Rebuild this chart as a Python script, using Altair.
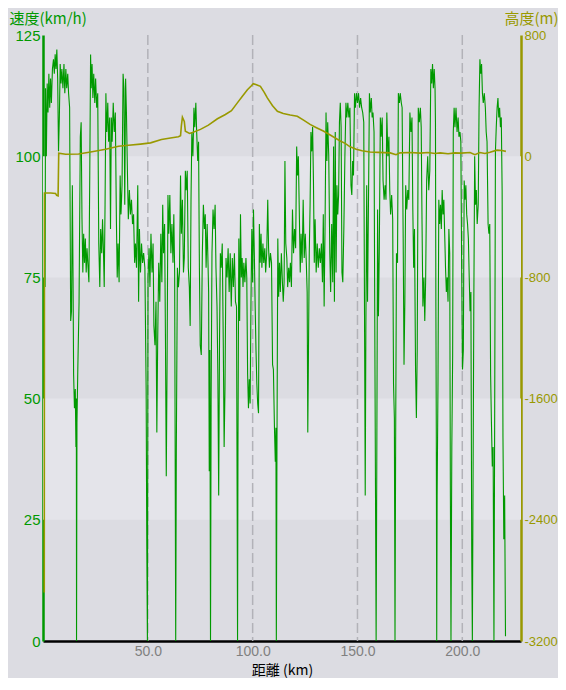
import altair as alt
import pandas as pd

# ---- data ----
# speed trace: (distance km, speed km/h)
speed_seg1 = [
    (1.0, 73), (1.2, 114), (1.6, 100), (2.0, 115), (2.4, 109), (2.8, 117), (3.2, 110), (3.6, 116),
    (4.0, 111), (4.5, 118), (5.0, 120), (5.4, 117), (5.8, 121), (6.2, 118), (6.6, 122), (7.0, 116),
    (7.4, 101), (7.8, 108), (8.2, 119), (8.6, 115), (9.0, 118), (9.5, 114), (10.0, 119), (10.4, 113),
    (10.9, 118), (11.3, 114), (11.8, 117), (12.2, 113), (12.7, 110), (13.2, 66), (13.6, 68), (14.0, 94),
    (14.3, 77), (14.6, 55), (15.0, 48), (15.4, 52), (15.7, 40), (15.9, 50), (16.0, 0), (16.2, 45),
    (16.6, 56), (17.2, 70), (17.8, 104), (18.2, 107), (18.6, 87), (19.0, 76), (19.4, 84), (19.8, 78),
    (20.2, 83), (20.6, 76), (21.0, 81), (21.5, 77), (21.9, 74), (22.3, 96), (22.7, 121), (23.0, 114),
    (23.4, 119), (23.8, 112), (24.2, 117), (24.7, 111), (25.1, 116), (25.6, 110), (26.1, 113), (26.6, 82),
    (27.1, 73), (27.5, 85), (28.0, 80), (28.4, 87), (28.8, 81), (29.2, 73), (29.6, 90), (30.0, 113),
    (30.4, 105), (30.9, 111), (31.3, 103), (31.8, 108), (32.2, 85), (32.6, 108), (33.0, 103), (33.5, 111),
    (34.0, 105), (34.5, 109), (35.0, 87), (35.4, 75), (35.8, 82), (36.3, 74), (36.8, 96), (37.2, 88),
    (37.7, 94), (38.2, 117), (38.6, 114), (39.0, 90), (39.4, 116), (39.8, 109), (40.3, 96), (40.7, 87),
    (41.2, 93), (41.7, 88), (42.2, 91), (42.7, 86), (43.2, 88), (43.7, 78), (44.1, 82), (44.6, 77),
]
speed_seg2 = [
    (45.2, 94), (45.6, 70), (46.0, 85), (46.5, 76), (47.0, 82), (47.5, 78), (48.0, 80), (48.6, 77),
    (49.2, 52), (49.5, 20), (49.8, 0), (50.1, 75), (50.6, 81), (51.0, 73), (51.5, 84), (52.0, 76),
    (52.5, 82), (52.9, 65), (53.4, 61), (53.9, 70), (54.3, 43), (54.7, 62), (55.2, 78), (55.7, 70),
    (56.2, 84), (56.7, 74), (57.1, 90), (57.5, 80), (58.0, 86), (58.4, 63), (58.8, 34), (59.2, 58),
    (59.6, 92), (60.0, 84), (60.5, 92), (61.0, 80), (61.5, 86), (62.0, 78), (62.4, 88), (62.8, 76),
    (63.1, 30), (63.3, 0), (63.6, 40), (64.1, 77), (64.6, 73), (65.1, 76), (65.6, 96), (66.0, 84),
    (66.5, 91), (67.0, 76), (67.4, 79), (67.9, 97), (68.3, 93), (68.8, 97), (69.3, 77), (69.8, 73),
    (70.2, 65), (70.6, 91), (71.0, 105), (71.5, 100), (72.0, 110), (72.4, 106), (72.9, 111), (73.3, 105),
    (73.8, 99), (74.2, 103), (74.6, 77), (75.0, 61), (75.5, 59), (76.0, 80), (76.5, 90), (77.0, 85),
    (77.4, 88), (77.8, 77), (78.3, 86), (78.7, 78), (79.0, 72), (79.3, 35), (79.6, 60), (79.9, 0),
    (80.2, 50), (80.6, 80), (81.1, 89), (81.6, 85), (82.1, 90), (82.5, 77), (83.0, 69), (83.4, 55),
    (83.8, 30), (84.2, 62), (84.6, 80), (85.0, 77), (85.5, 82), (86.0, 61), (86.4, 40), (86.8, 52),
    (87.3, 79), (87.8, 75), (88.3, 81), (88.8, 72), (89.3, 80), (89.8, 69), (90.3, 79), (90.8, 73),
    (91.3, 80), (91.8, 70), (92.3, 69), (92.6, 29), (92.8, 0), (93.0, 40),
]
speed_seg3 = [
    (93.4, 83), (93.8, 66), (94.2, 88), (94.6, 75), (95.0, 79), (95.4, 73), (95.8, 78), (96.3, 74),
    (96.8, 79), (97.2, 75), (97.6, 55), (98.0, 48), (98.4, 54), (98.8, 49), (99.2, 70), (99.6, 85),
    (100.0, 74), (100.4, 89), (100.8, 80), (101.2, 69), (101.6, 60), (102.0, 53), (102.4, 49), (102.8, 47),
    (103.2, 86), (103.6, 78), (104.0, 84), (104.4, 77), (104.9, 82), (105.3, 78), (105.8, 81), (106.2, 76),
    (106.7, 80), (107.2, 91), (107.6, 81), (108.0, 77), (108.5, 80), (109.0, 78), (109.5, 57), (109.9, 56),
    (110.4, 44), (110.8, 37), (111.1, 44), (111.3, 0), (111.6, 40), (112.0, 83), (112.4, 71), (112.8, 78),
    (113.2, 72), (113.7, 80), (114.2, 74), (114.6, 70), (115.0, 74), (115.4, 99), (115.8, 82), (116.3, 79),
    (116.7, 73), (117.2, 77), (117.6, 74), (118.0, 78), (118.5, 73), (119.0, 89), (119.5, 80), (120.0, 85),
    (120.5, 81), (121.0, 102), (121.4, 96), (121.8, 100), (122.2, 90), (122.7, 76), (123.1, 84), (123.6, 78),
    (124.1, 91), (124.6, 79), (125.1, 84), (125.6, 78), (126.0, 72), (126.3, 43), (126.6, 58), (127.0, 80),
    (127.4, 90), (127.8, 105), (128.2, 101), (128.6, 106), (129.0, 95), (129.4, 78), (129.8, 87), (130.3, 76),
    (130.8, 82), (131.3, 77), (131.8, 81), (132.3, 78), (132.8, 82), (133.3, 74), (133.7, 88), (134.1, 69),
    (134.5, 84), (135.0, 109), (135.4, 99), (135.8, 107), (136.3, 100), (136.8, 80), (137.2, 72), (137.7, 86),
    (138.2, 74), (138.6, 102), (139.0, 70),
]
speed_seg4 = [
    (139.4, 105), (139.8, 76), (140.2, 94), (140.6, 88), (141.0, 92), (141.4, 107), (141.8, 111), (142.2, 106),
    (142.6, 76), (143.0, 74), (143.5, 85), (144.0, 100), (144.5, 111), (144.9, 108), (145.4, 111), (145.9, 108),
    (146.4, 110), (146.9, 94), (147.3, 92), (147.7, 99), (148.1, 96), (148.6, 113), (149.0, 110), (149.5, 113),
    (150.0, 111), (150.5, 113), (151.0, 110), (151.5, 112), (152.0, 110), (152.5, 109), (153.0, 107), (153.4, 63),
    (153.7, 30), (154.0, 64), (154.4, 94), (154.8, 70), (155.3, 93), (155.7, 113), (156.1, 109), (156.6, 112),
    (157.0, 108), (157.4, 109), (157.9, 105), (158.3, 61), (158.6, 30), (158.9, 0), (159.2, 35), (159.6, 89),
    (160.0, 67), (160.4, 80), (160.9, 108), (161.3, 104), (161.8, 108), (162.2, 95), (162.7, 91), (163.2, 94),
    (163.6, 91), (164.0, 109), (164.5, 100), (165.0, 104), (165.4, 93), (165.8, 88), (166.3, 92), (166.8, 87),
    (167.2, 53), (167.6, 46), (167.9, 0), (168.2, 40), (168.6, 80), (169.1, 78), (169.5, 113), (170.0, 111),
    (170.4, 113), (170.9, 111), (171.3, 110), (171.8, 83), (172.2, 57), (172.6, 70), (173.0, 94), (173.5, 89),
    (174.0, 93), (174.5, 91), (175.0, 109), (175.5, 105), (176.0, 108), (176.4, 89), (176.8, 77), (177.2, 85),
    (177.7, 56), (178.1, 46), (178.5, 60), (179.0, 110), (179.5, 107), (180.0, 110), (180.4, 106), (180.8, 86),
    (181.2, 69), (181.7, 75), (182.1, 66), (182.5, 74), (183.0, 95), (183.5, 100), (184.0, 93), (184.5, 97),
    (185.0, 118), (185.4, 115), (185.8, 119), (186.2, 114), (186.6, 118),
]
speed_seg5 = [
    (187.0, 114), (187.2, 107), (187.4, 69), (187.6, 43), (187.8, 0), (188.0, 30), (188.4, 53), (188.8, 91),
    (189.2, 86), (189.6, 90), (190.0, 85), (190.4, 93), (190.8, 88), (191.2, 91), (191.6, 84), (192.0, 77),
    (192.4, 72), (192.8, 75), (193.2, 70), (193.6, 85), (194.0, 80), (194.3, 32), (194.6, 0), (195.0, 40),
    (195.4, 59), (195.7, 105), (196.1, 110), (196.5, 106), (197.0, 110), (197.5, 105), (198.0, 108), (198.4, 104),
    (198.9, 105), (199.3, 103), (199.7, 77), (200.1, 56), (200.5, 60), (200.9, 95), (201.3, 91), (201.7, 94),
    (202.1, 88), (202.5, 86), (202.9, 83), (203.3, 75), (203.7, 68), (204.1, 72), (204.5, 18), (204.8, 0),
    (205.1, 30), (205.5, 70), (205.9, 100), (206.3, 90), (206.7, 93), (207.1, 86), (207.6, 90), (208.0, 110),
    (208.4, 120), (208.8, 117), (209.2, 119), (209.6, 113), (210.0, 111), (210.5, 113), (211.0, 110), (211.4, 105),
    (211.8, 103), (212.3, 86), (212.7, 84), (213.1, 86), (213.5, 55), (213.9, 45), (214.3, 36), (214.7, 40),
    (215.1, 0), (215.4, 40), (215.8, 101), (216.2, 106), (216.6, 110), (217.0, 112), (217.4, 108), (217.8, 110),
    (218.2, 106), (218.6, 108), (219.0, 93), (219.4, 42), (219.8, 21), (220.2, 30), (220.6, 1),
]

# altitude trace: (distance km, altitude m)
altitude_pts = [
    (0.6, -2880), (0.7, -243), (3.7, -243), (6.0, -246), (6.5, -258), (7.2, -262), (7.5, 20), (10.8, 13),
    (17.0, 15), (22.7, 28), (29.9, 46), (36.0, 66), (40.8, 72), (46.5, 80), (51.3, 88), (56.5, 110),
    (60.8, 120), (64.6, 128), (65.6, 135), (66.0, 200), (66.5, 258), (67.4, 230), (67.9, 165), (69.9, 150),
    (71.3, 156), (75.1, 177), (78.9, 205), (83.2, 247), (87.0, 275), (89.9, 300), (92.7, 352), (95.1, 395),
    (97.5, 439), (99.4, 465), (100.3, 479), (101.8, 472), (103.7, 461), (105.6, 420), (107.0, 385), (109.4, 335),
    (111.8, 297), (114.6, 282), (117.9, 272), (121.3, 264), (124.1, 240), (127.4, 210), (130.2, 190), (133.7, 166),
    (137.0, 140), (141.8, 100), (144.1, 85), (146.5, 62), (149.4, 46), (152.2, 36), (156.0, 28), (159.9, 25),
    (165.6, 22), (168.4, 10), (170.3, 22), (175.1, 24), (179.9, 20), (183.6, 24), (187.0, 18), (189.4, 22),
    (193.2, 16), (196.5, 22), (199.4, 20), (203.7, 24), (206.0, 10), (208.4, 24), (210.8, 18), (213.2, 26),
    (216.5, 40), (218.9, 38), (220.8, 32),
]

x_ticks = [50, 100, 150, 200]
grid_km = [50, 100, 150, 200]
speed_ticks = [0, 25, 50, 75, 100, 125]
alt_ticks = [-3200, -2400, -1600, -800, 0, 800]
band_lo = [75, 25]
band_hi = [100, 50]

# ---- styling ----
GREEN = "#009900"
OLIVE = "#999900"
BG = "#dcdce2"
BAND = "#e4e4ea"
W, H = 478, 606
CJK = "Noto Sans CJK JP"
NUM = "Liberation Sans"

speed_df = pd.DataFrame(speed_seg1 + speed_seg2 + speed_seg3 + speed_seg4 + speed_seg5, columns=["km", "v"])
alt_df = pd.DataFrame(altitude_pts, columns=["km", "h"])
band_df = pd.DataFrame({"lo": band_lo, "hi": band_hi})
grid_df = pd.DataFrame({"km": grid_km})

x_scale = alt.Scale(domain=[0, 228], nice=False, zero=False)
x_axis = alt.Axis(
    values=x_ticks, format=".1f", labelColor="#808080", labelFont=NUM, labelFontSize=14,
    labelPadding=3, tickSize=0, domainColor="black", domainWidth=2.5, grid=False,
    title="距離 (km)", titleFont=CJK, titleFontSize=14, titleFontWeight="normal", titleColor="black",
    titleX=W / 2, titleY=29, titleAlign="center", titleBaseline="middle",
)


def X():
    return alt.X("km:Q", scale=x_scale, axis=x_axis)


speed_scale = alt.Scale(domain=[0, 125], nice=False, zero=False)
speed_axis = alt.Axis(
    orient="left", values=speed_ticks, labelColor=GREEN, labelFont=NUM, labelFontSize=15,
    labelPadding=3, tickSize=0, domainColor=GREEN, domainWidth=2.5, grid=False, labelOverlap=False,
    title="速度(km/h)", titleAngle=0, titleX=-34, titleY=-17, titleAlign="left", titleBaseline="middle",
    titleColor=GREEN, titleFont=CJK, titleFontSize=15, titleFontWeight="normal", titleLimit=200,
)

alt_axis = alt.Axis(
    orient="right", values=alt_ticks, labelColor=OLIVE, labelFont=NUM, labelFontSize=13,
    labelExpr="datum.value < 0 ? '-' + abs(datum.value) : '' + datum.value",
    labelPadding=3, tickSize=0, domainColor=OLIVE, domainWidth=2.5, grid=False, labelOverlap=False,
    title="高度(m)", titleAngle=0, titleX=-17, titleY=-17, titleAlign="left", titleBaseline="middle",
    titleColor=OLIVE, titleFont=CJK, titleFontSize=15, titleFontWeight="normal", titleLimit=200,
)

bands = alt.Chart(band_df).mark_rect(color=BAND).encode(
    x=alt.value(0), x2=alt.value(W),
    y=alt.Y("lo:Q", scale=speed_scale, axis=None), y2="hi:Q",
)

grid = alt.Chart(grid_df).mark_rule(color="#b2b2b8", strokeWidth=1.5, strokeDash=[10, 4]).encode(x=X())

speed_line = alt.Chart(speed_df).mark_line(color=GREEN, strokeWidth=1.1).encode(
    x=X(), y=alt.Y("v:Q", scale=speed_scale, axis=speed_axis)
)

altitude_line = alt.Chart(alt_df).mark_line(color=OLIVE, strokeWidth=1.6).encode(
    x=X(), y=alt.Y("h:Q", scale=alt.Scale(domain=[-3200, 800], nice=False, zero=False), axis=alt_axis)
)

chart = alt.layer(bands, grid, speed_line, altitude_line).resolve_scale(y="independent").properties(
    width=W, height=H,
    padding={"left": 35, "top": 27, "right": 37, "bottom": 37},
    autosize=alt.AutoSizeParams(type="none"),
    background=BG,
).configure_view(stroke=None, fill=None)

chart.save("out.html", embed_options={"renderer": "svg", "actions": False})
